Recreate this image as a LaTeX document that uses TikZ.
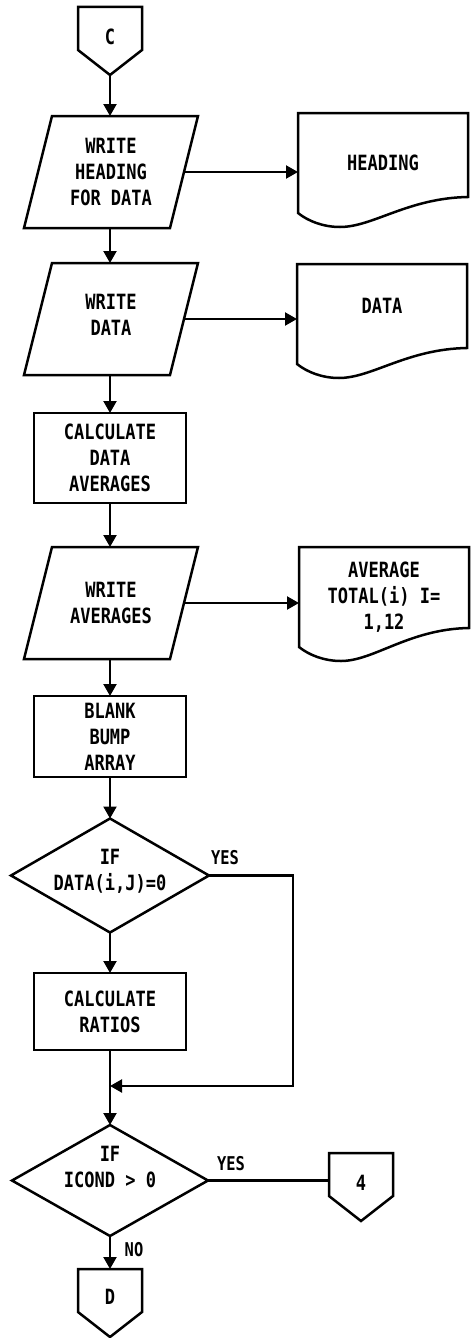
\documentclass[tikz,border=0pt]{standalone}
\usepackage{fontspec}
\newfontfamily\flowfont[FakeStretch=0.81]{DejaVu Sans Mono}
\usetikzlibrary{arrows.meta,calc,shapes.geometric}

\begin{document}
\begin{tikzpicture}[x=1pt,y=-1pt,
  every node/.style={font=\flowfont\bfseries\fontsize{21}{26}\selectfont,
                     align=center, inner sep=0pt, outer sep=0pt},
  outline/.style={draw, line width=2.5pt, line join=miter},
  flow/.style={line width=2.2pt},
  tip/.style={-{Triangle[width=13pt,length=12pt]}},
  frame/.style={rectangle, draw=none},
  procbox/.style={outline, rectangle, minimum width=152pt},
  iobox/.style={frame, minimum width=174pt, minimum height=112pt},
  docbox/.style={frame, minimum width=170pt, minimum height=100pt},
  offpage/.style={frame, minimum width=64pt, minimum height=68pt, text depth=9pt},
  decision/.style={outline, diamond, minimum width=198pt, minimum height=114pt},
  tag/.style={font=\flowfont\bfseries\fontsize{19}{22}\selectfont}
]
\useasboundingbox (0,0) rectangle (471,1338);

% ---- shapes of the main column ----
\node[offpage] (oc) at (110,41) {C};
\node[iobox] (p1) at (111,172) {WRITE\\HEADING\\FOR DATA};
\node[iobox, text depth=8pt] (p2) at (111,319) {WRITE\\DATA};
\node[procbox, minimum height=90pt] (r1) at (110,458) {CALCULATE\\DATA\\AVERAGES};
\node[iobox] (p3) at (111,603) {WRITE\\AVERAGES};
\node[procbox, minimum height=81pt] (r2) at (110,736.5) {BLANK\\BUMP\\ARRAY};
\node[decision] (q1) at (110,875.5) {};
\node[procbox, minimum height=77pt] (r3) at (110,1011.5) {CALCULATE\\RATIOS};
\node[decision, minimum width=196pt, minimum height=111pt] (q2) at (110,1180.5) {};
\node[offpage, text depth=12pt] (od) at (110,1303) {D};
\node[offpage] (o4) at (361,1187) {4};

% conditions written inside the decisions
\node (q1text) at (110,871) {IF\\DATA(i,J)=0};
\node (q2text) at (110,1167) {IF\\ICOND > 0};

% ---- output documents ----
\node[docbox] (d1) at (383,163) {HEADING};
\node[docbox, text depth=16pt] (d2) at (382,314) {DATA};
\node[docbox] (d3) at (384,597) {AVERAGE\\TOTAL(i) I=\\1,12};

% off-page connector outlines
\foreach \n in {oc,od,o4}{
  \draw[outline] (\n.north west) -- (\n.north east) -- ($(\n.north east)+(0,43)$)
    -- (\n.south) -- ($(\n.north west)+(0,43)$) -- cycle;
}
% input/output parallelograms
\foreach \n in {p1,p2,p3}{
  \draw[outline] (\n.south west) -- ($(\n.north west)+(28,0)$) -- (\n.north east)
    -- ($(\n.south east)+(-28,0)$) -- cycle;
}
% document outlines with wavy bottom edge
\foreach \n/\r in {d1/-16,d2/-16,d3/-19}{
  \draw[outline] (\n.south west) -- (\n.north west) -- (\n.north east)
    -- ($(\n.south east)+(0,\r)$)
    .. controls ($(\n.south west)+(110,\r+1)$) and ($(\n.south west)+(75,14)$) .. ($(\n.south west)+(42,14)$)
    .. controls ($(\n.south west)+(25,14)$) and ($(\n.south west)+(10,8)$) .. (\n.south west) -- cycle;
}

% ---- connectors ----
\draw[flow,tip] (oc.south) -- (p1.north -| oc.south);
\draw[flow,tip] (p1.south -| oc.south) -- (p2.north -| oc.south);
\draw[flow,tip] (p2.south -| oc.south) -- (r1.north);
\draw[flow,tip] (r1.south) -- (p3.north -| r1.south);
\draw[flow,tip] (p3.south -| r1.south) -- (r2.north);
\draw[flow,tip] (r2.south) -- (q1.north);
\draw[flow,tip] (q1.south) -- (r3.north);
\draw[flow,tip] (r3.south) -- (q2.north);
\draw[flow,tip] (q2.south) -- (od.north);
\draw[flow] (q2.east) -- (o4.west |- q2.east);

\draw[flow,tip] ($(p1.east)+(-14,0)$) -- (d1.west |- p1.east);
\draw[flow,tip] ($(p2.east)+(-14,0)$) -- (d2.west |- p2.east);
\draw[flow,tip] ($(p3.east)+(-14,0)$) -- (d3.west |- p3.east);

\coordinate (loop) at (293,1086);
\draw[flow,tip] (q1.east) -| (loop) -- (loop -| r3.south);

% ---- branch labels ----
\node[tag] (yes1) at (225,858) {YES};
\node[tag] (yes2) at (231,1164) {YES};
\node[tag] (no2) at (134,1250) {NO};
\end{tikzpicture}
\end{document}
